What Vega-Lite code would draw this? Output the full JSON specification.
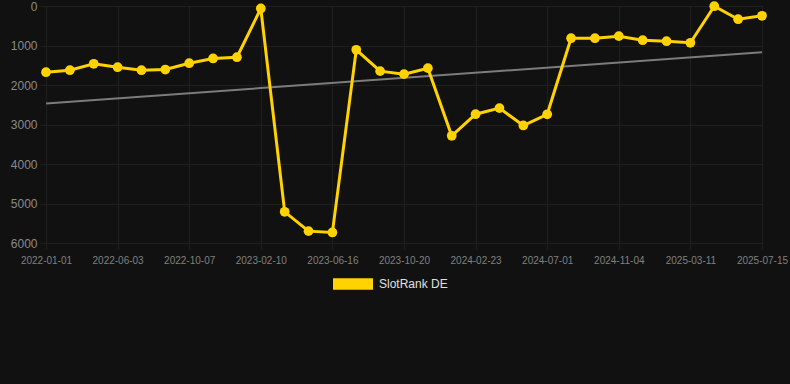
{
  "$schema": "https://vega.github.io/schema/vega-lite/v6.json",
  "width": 716,
  "height": 237,
  "autosize": {"type": "none"},
  "padding": {"left": 46, "top": 6, "right": 28, "bottom": 141},
  "background": "#111111",
  "config": {
    "view": {"stroke": null},
    "font": "Liberation Sans",
    "axis": {
      "domain": false,
      "gridColor": "#1f1f1f",
      "gridWidth": 1,
      "tickColor": "#1f1f1f",
      "tickSize": 6,
      "labelFont": "Liberation Sans",
      "labelOverlap": false,
      "title": null
    }
  },
  "data": {
    "values": [
      {"date": "2022-01-01", "rank": 1676, "trend": 2468},
      {"date": "2022-03-11", "rank": 1625},
      {"date": "2022-04-22", "rank": 1463},
      {"date": "2022-06-03", "rank": 1550},
      {"date": "2022-07-15", "rank": 1625},
      {"date": "2022-08-26", "rank": 1608},
      {"date": "2022-10-07", "rank": 1448},
      {"date": "2022-11-18", "rank": 1329},
      {"date": "2022-12-30", "rank": 1296},
      {"date": "2023-02-10", "rank": 63},
      {"date": "2023-03-24", "rank": 5210},
      {"date": "2023-05-05", "rank": 5700},
      {"date": "2023-06-16", "rank": 5734},
      {"date": "2023-07-28", "rank": 1109},
      {"date": "2023-09-08", "rank": 1650},
      {"date": "2023-10-20", "rank": 1726},
      {"date": "2023-12-01", "rank": 1574},
      {"date": "2024-01-12", "rank": 3286},
      {"date": "2024-02-23", "rank": 2739},
      {"date": "2024-04-06", "rank": 2585},
      {"date": "2024-05-19", "rank": 3025},
      {"date": "2024-07-01", "rank": 2742},
      {"date": "2024-08-12", "rank": 815},
      {"date": "2024-09-23", "rank": 815},
      {"date": "2024-11-04", "rank": 764},
      {"date": "2024-12-16", "rank": 866},
      {"date": "2025-01-27", "rank": 891},
      {"date": "2025-03-11", "rank": 932},
      {"date": "2025-04-22", "rank": 5},
      {"date": "2025-06-03", "rank": 334},
      {"date": "2025-07-15", "rank": 248, "trend": 1170}
    ]
  },
  "encoding": {
    "x": {
      "field": "date",
      "type": "ordinal",
      "sort": "ascending",
      "scale": {"type": "point", "padding": 0},
      "axis": {
        "values": ["2022-01-01", "2022-06-03", "2022-10-07", "2023-02-10", "2023-06-16", "2023-10-20", "2024-02-23", "2024-07-01", "2024-11-04", "2025-03-11", "2025-07-15"],
        "labelAngle": 0,
        "labelFontSize": 10,
        "labelColor": "#808080",
        "labelPadding": 6,
        "grid": true
      }
    }
  },
  "layer": [
    {
      "transform": [{"filter": "isValid(datum.trend)"}],
      "mark": {"type": "line", "color": "#7c7c7c", "strokeWidth": 2},
      "encoding": {
        "y": {
          "field": "trend",
          "type": "quantitative",
          "scale": {"domain": [0, 6000], "reverse": true, "nice": false},
          "axis": {
            "values": [0, 1000, 2000, 3000, 4000, 5000, 6000],
            "format": "d",
            "labelFontSize": 12,
            "labelColor": "#8a8a8a",
            "labelPadding": 3,
            "grid": true
          }
        }
      }
    },
    {
      "mark": {"type": "line", "color": "#ffd200", "strokeWidth": 3},
      "encoding": {
        "y": {
          "field": "rank",
          "type": "quantitative",
          "scale": {"domain": [0, 6000], "reverse": true, "nice": false},
          "axis": {
            "values": [0, 1000, 2000, 3000, 4000, 5000, 6000],
            "format": "d",
            "labelFontSize": 12,
            "labelColor": "#8a8a8a",
            "labelPadding": 3,
            "grid": true
          }
        }
      }
    },
    {
      "mark": {"type": "point", "filled": true, "size": 95, "opacity": 1},
      "encoding": {
        "y": {
          "field": "rank",
          "type": "quantitative",
          "scale": {"domain": [0, 6000], "reverse": true, "nice": false},
          "axis": {
            "values": [0, 1000, 2000, 3000, 4000, 5000, 6000],
            "format": "d",
            "labelFontSize": 12,
            "labelColor": "#8a8a8a",
            "labelPadding": 3,
            "grid": true
          }
        },
        "color": {
          "datum": "SlotRank DE",
          "type": "nominal",
          "scale": {"range": ["#ffd200"]},
          "legend": {
            "title": null,
            "orient": "none",
            "legendX": 287,
            "legendY": 258,
            "padding": 0,
            "symbolType": "M-1,-0.29L1,-0.29L1,0.29L-1,0.29Z",
            "symbolSize": 1600,
            "symbolStrokeWidth": 0,
            "symbolOpacity": 1,
            "labelFontSize": 12,
            "labelColor": "#e0e0e0",
            "labelOffset": 6
          }
        }
      }
    }
  ]
}
